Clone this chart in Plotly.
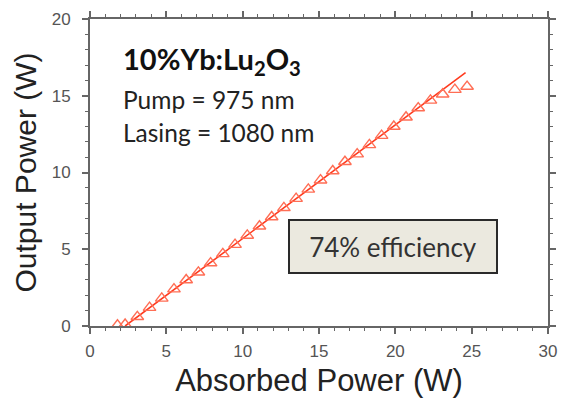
import plotly.graph_objects as go

absorbed_w = [1.8, 2.3, 3.1, 3.9, 4.7, 5.5, 6.3, 7.1, 7.9, 8.7, 9.5, 10.3, 11.1, 11.9, 12.7,
              13.5, 14.3, 15.1, 15.9, 16.7, 17.5, 18.3, 19.1, 19.9, 20.7, 21.5, 22.3, 23.1,
              23.9, 24.7]
output_w = [0.05, 0.1, 0.6, 1.2, 1.8, 2.4, 3.0, 3.5, 4.1, 4.7, 5.3, 5.9, 6.5, 7.1, 7.7,
            8.3, 8.9, 9.5, 10.1, 10.7, 11.2, 11.8, 12.4, 13.0, 13.6, 14.2, 14.7, 15.1,
            15.4, 15.6]

# Linear fit line (74% slope efficiency)
fit_x = [2.3, 24.6]
fit_y = [0.0, 16.5]

x_ticks = [0, 5, 10, 15, 20, 25, 30]
y_ticks = [0, 5, 10, 15, 20]

title_lines = ["<b>10%Yb:Lu<sub>2</sub>O<sub>3</sub></b>", "Pump = 975 nm", "Lasing = 1080 nm"]
efficiency_label = "74% efficiency"

fig = go.Figure()
fig.add_trace(go.Scatter(x=fit_x, y=fit_y, mode="lines",
                         line=dict(color="#FF3A1E", width=1.6), showlegend=False))
fig.add_trace(go.Scatter(x=absorbed_w, y=output_w, mode="markers",
                         marker=dict(symbol="triangle-up-open", size=11,
                                     color="#FF6E55", line=dict(width=1.4)),
                         showlegend=False))

axis_common = dict(showgrid=False, zeroline=False, showline=True, linecolor="#666666",
                   linewidth=2, mirror="allticks", ticks="outside", ticklen=6,
                   tickwidth=1.5, tickcolor="#666666",
                   tickfont=dict(family="Liberation Sans, Arial", size=17, color="#555555"),
                   minor=dict(ticks="outside", ticklen=3, tickwidth=1, tickcolor="#666666",
                              dtick=1))

fig.update_xaxes(range=[0, 30], tickvals=x_ticks, ticklabelstandoff=3,
                 title=dict(text="Absorbed Power (W)", standoff=9,
                            font=dict(family="Liberation Sans, Arial", size=31, color="#222222")),
                 **axis_common)
fig.update_yaxes(range=[0, 20], tickvals=y_ticks, ticklabelstandoff=8,
                 title=dict(text="Output Power (W)", standoff=6,
                            font=dict(family="Liberation Sans, Arial", size=30, color="#222222")),
                 **axis_common)

text_font = "Lato, Open Sans, sans-serif"
fig.add_annotation(x=2.0, y=17.3, xref="x", yref="y", text=title_lines[0], showarrow=False,
                   xanchor="left", yanchor="middle",
                   font=dict(family=text_font, size=29, color="#111111"))
fig.add_annotation(x=2.0, y=14.75, xref="x", yref="y", text=title_lines[1], showarrow=False,
                   xanchor="left", yanchor="middle",
                   font=dict(family=text_font, size=24.5, color="#222222"))
fig.add_annotation(x=2.0, y=12.6, xref="x", yref="y", text=title_lines[2], showarrow=False,
                   xanchor="left", yanchor="middle",
                   font=dict(family=text_font, size=24.5, color="#222222"))

fig.add_annotation(x=19.85, y=5.2, xref="x", yref="y", text=efficiency_label, showarrow=False,
                   xanchor="center", yanchor="middle", width=204, height=49,
                   bgcolor="#EBE9DF", bordercolor="#2A2A2A", borderwidth=2, borderpad=1,
                   font=dict(family=text_font, size=26, color="#333333"))

fig.update_layout(width=567, height=402, margin=dict(l=90, r=10, t=18, b=75),
                  paper_bgcolor="white", plot_bgcolor="white")

fig.write_html("out.html", config={"displayModeBar": False},
               post_script="document.body.style.margin='0px';")
